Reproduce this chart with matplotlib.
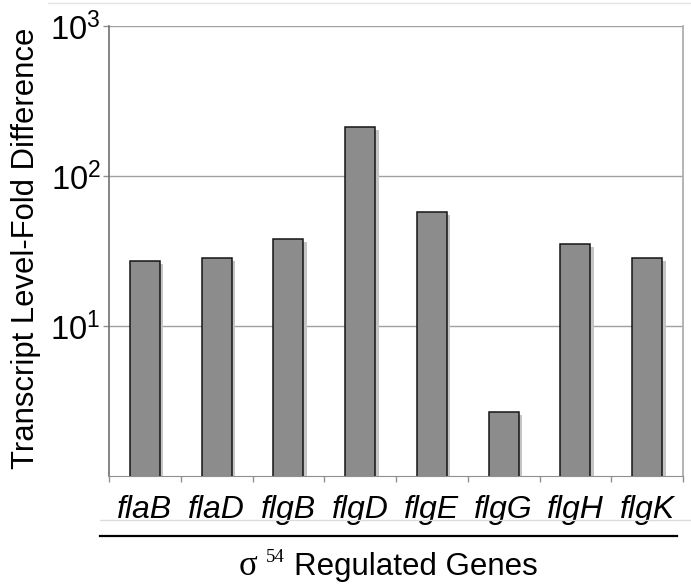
import matplotlib
matplotlib.use('Agg')
import matplotlib.pyplot as plt
import matplotlib.patheffects as pe
from matplotlib.lines import Line2D
from matplotlib.ticker import LogFormatterSciNotation, NullLocator, FixedLocator

plt.rcParams['font.family'] = ['Liberation Sans', 'DejaVu Sans']
plt.rcParams['mathtext.fontset'] = 'custom'
plt.rcParams['mathtext.default'] = 'regular'

# sigma-54 regulated genes, fold difference
genes = ['flaB', 'flaD', 'flgB', 'flgD', 'flgE', 'flgG', 'flgH', 'flgK']
fold_diff = [27.0, 28.4, 38.0, 211, 57.3, 2.66, 35.2, 28.3]

fig = plt.figure(figsize=(6.91, 5.88), dpi=100)
ax = fig.add_axes([109/691, 1-476/588, 574/691, 450/588])

x = list(range(len(genes)))
bars = ax.bar(x, fold_diff, width=0.42, color='#8c8c8c', edgecolor='#151515',
              linewidth=1.1, zorder=3)
for b in bars:
    b.set_path_effects([pe.SimplePatchShadow(offset=(2.4, -2.2), shadow_rgbFace='#c4c4c4', alpha=1),
                        pe.Normal()])

ax.set_yscale('log')
ax.set_ylim(1, 1000)
ax.set_xlim(-0.5, len(genes) - 0.5)

ax.yaxis.set_major_locator(FixedLocator([10, 100, 1000]))
ax.yaxis.set_major_formatter(LogFormatterSciNotation())
ax.yaxis.set_minor_locator(NullLocator())
ax.grid(axis='y', color='#a0a0a0', linewidth=1.0, zorder=0)

ax.set_xticks(x)
ax.set_xticklabels(genes, fontsize=23, style='italic')
ax.set_xticks([i - 0.5 for i in range(len(genes) + 1)], minor=True)
ax.tick_params(axis='x', which='major', length=0, pad=14)
ax.tick_params(axis='x', which='minor', length=4, color='#909090', width=1)
ax.tick_params(axis='y', which='major', length=4, color='#909090', width=1,
               labelsize=23.5, pad=2)

ax.spines['top'].set_visible(False)
ax.spines['left'].set_color('#707070')
ax.spines['left'].set_linewidth(1.2)
ax.spines['bottom'].set_color('#909090')
ax.spines['right'].set_color('#a8a8a8')
ax.spines['right'].set_linewidth(1.2)

ax.set_ylabel('Transcript Level-Fold Difference', fontsize=22.3)
ax.yaxis.set_label_coords(-0.118, 0.505)

# chart frame remnants and the bracket line above the axis title
fig.add_artist(Line2D([48/691, 1], [1-3/588, 1-3/588], color='#e4e4e4', lw=1))
fig.add_artist(Line2D([100/691, 1], [1-520/588, 1-520/588], color='#dcdcdc', lw=1))
fig.add_artist(Line2D([100/691, 677/691], [1-536/588, 1-536/588], color='black', lw=1.6))

# axis title: serif sigma with superscript 54, then sans text
fig.text(239/691, 1-575/588, '\u03c3', family='Liberation Serif', fontsize=25,
         ha='left', va='baseline')
fig.text(266/691, 1-562/588, '54', family='Liberation Serif', fontsize=13.5,
         ha='left', va='baseline')
fig.text(294/691, 1-575/588, 'Regulated Genes', fontsize=22.5,
         ha='left', va='baseline')

fig.savefig('out.png', dpi=100)
